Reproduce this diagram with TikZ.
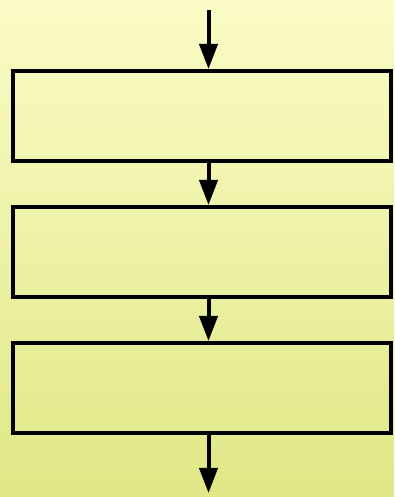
\documentclass[tikz,border=0pt]{standalone}
\usetikzlibrary{arrows.meta}
\definecolor{bgtop}{RGB}{251,251,198}
\definecolor{bgbot}{RGB}{224,231,134}
\begin{document}
\begin{tikzpicture}[x=1pt,y=1pt,
  stepbox/.style={draw=black,line width=4pt,minimum width=378pt,minimum height=90pt,inner sep=0pt},
  flow/.style={line width=4pt,-{Triangle[width=18pt,length=25pt]}}]
\shade[top color=bgtop,bottom color=bgbot] (0,0) rectangle (394,497);
\useasboundingbox (0,0) rectangle (394,497);
\node[stepbox] (b1) at (202,381) {};
\node[stepbox] (b2) at (202,245) {};
\node[stepbox] (b3) at (202,109) {};
\coordinate (in) at (208.5,487);
\coordinate (out) at (208.5,4);
\draw[flow] (in) -- (in |- b1.north);
\draw[flow] (in |- b1.south) -- (in |- b2.north);
\draw[flow] (in |- b2.south) -- (in |- b3.north);
\draw[flow] (in |- b3.south) -- (out);
\end{tikzpicture}
\end{document}
